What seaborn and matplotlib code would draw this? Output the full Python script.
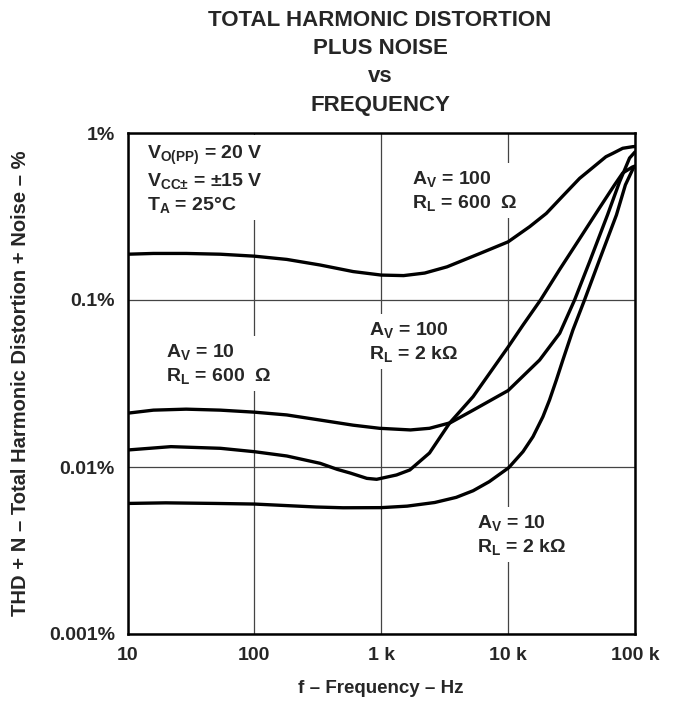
import numpy as np
import pandas as pd
import matplotlib
matplotlib.use("Agg")
import matplotlib.pyplot as plt
import seaborn as sns

# ---------------- data ----------------
# Av = 100, RL = 600 ohm
f_a100_600 = [10, 16, 29, 54, 100, 180, 330, 600, 1000, 1500, 2200, 3300, 6000, 10000,
              14800, 20000, 27000, 36600, 44000, 59000, 67000, 80000, 96000, 100000]
v_a100_600 = [0.188, 0.190, 0.190, 0.188, 0.183, 0.175, 0.162, 0.148, 0.141, 0.140, 0.145,
              0.158, 0.190, 0.223, 0.275, 0.330, 0.420, 0.535, 0.600, 0.721, 0.756, 0.810,
              0.828, 0.830]

# Av = 10, RL = 600 ohm
f_a10_600 = [10, 16, 29, 54, 100, 180, 330, 600, 970, 1700, 2400, 3500, 5300, 10000,
             17700, 25500, 33400, 43800, 60700, 75500, 90600, 100000]
v_a10_600 = [0.0210, 0.0219, 0.0222, 0.0219, 0.0213, 0.0205, 0.0191, 0.0178, 0.01705,
             0.01667, 0.01705, 0.0184, 0.0219, 0.0287, 0.0437, 0.0632, 0.100, 0.169,
             0.323, 0.509, 0.708, 0.770]

# Av = 100, RL = 2 kohm
f_a100_2k = [10, 22, 54, 100, 180, 330, 450, 570, 770, 920, 1320, 1680, 2400, 3460,
             5300, 10000, 13100, 18000, 25500, 36500, 52500, 69000, 80000, 95500,
             100000]
v_a100_2k = [0.01264, 0.01324, 0.01294, 0.01235, 0.01164, 0.01052, 0.00968, 0.00920,
             0.00855, 0.00844, 0.00896, 0.00960, 0.01213, 0.01834, 0.0264, 0.0523,
             0.0708, 0.100, 0.1525, 0.232, 0.356, 0.489, 0.576, 0.626, 0.634]

# Av = 10, RL = 2 kohm
f_a10_2k = [10, 20, 50, 100, 307, 500, 1000, 1600, 2640, 3900, 5300, 7100, 10100, 13100,
            15700, 18800, 21200, 24000, 27000, 32400, 40000, 52500, 71400, 84000, 97000,
            100000]
v_a10_2k = [0.00605, 0.0061, 0.00605, 0.0060, 0.00576, 0.0057, 0.00571, 0.00583, 0.00613,
            0.00658, 0.00721, 0.00817, 0.0099, 0.01236, 0.01519, 0.0200, 0.0252, 0.0332,
            0.0437, 0.0661, 0.100, 0.174, 0.323, 0.489, 0.617, 0.626]

x_ticks = [10, 100, 1000, 10000, 100000]
x_ticklabels = ["10", "100", "1 k", "10 k", "100 k"]
y_ticks = [0.001, 0.01, 0.1, 1]
y_ticklabels = ["0.001%", "0.01%", "0.1%", "1%"]

title = "TOTAL HARMONIC DISTORTION\nPLUS NOISE\nvs\nFREQUENCY"
xlabel = "f – Frequency – Hz"
ylabel = "THD + N – Total Harmonic Distortion + Noise – %"

# ---------------- build table ----------------
frames = []
for name, f, v in [("a100_600", f_a100_600, v_a100_600),
                   ("a10_600", f_a10_600, v_a10_600),
                   ("a100_2k", f_a100_2k, v_a100_2k),
                   ("a10_2k", f_a10_2k, v_a10_2k)]:
    frames.append(pd.DataFrame({"f": f, "thd": v, "curve": name}))
df = pd.concat(frames, ignore_index=True)

# ---------------- style ----------------
sns.set_theme(style="white")
plt.rcParams["font.family"] = ["Liberation Sans", "DejaVu Sans"]
plt.rcParams["font.weight"] = "bold"
plt.rcParams["mathtext.default"] = "regular"

fig = plt.figure(figsize=(6.76, 7.07), dpi=100)
ax = fig.add_axes([127.5 / 676, 1 - 634 / 707, (635 - 127.5) / 676, (634 - 133) / 707])

sns.lineplot(data=df, x="f", y="thd", hue="curve", units="curve", estimator=None,
             sort=False, palette=["black"] * 4, linewidth=2.4, legend=False, ax=ax,
             zorder=4)
for ln in ax.get_lines():
    ln.set_solid_joinstyle("round")
    ln.set_solid_capstyle("round")

ax.set_xscale("log")
ax.set_yscale("log")
ax.set_xlim(10, 100000)
ax.set_ylim(0.001, 1)
ax.set_xticks(x_ticks)
ax.set_xticklabels(x_ticklabels)
ax.set_yticks(y_ticks)
ax.set_yticklabels(y_ticklabels)
ax.minorticks_off()
ax.tick_params(axis="both", length=0, labelsize=14, pad=9)
for lab in ax.get_xticklabels() + ax.get_yticklabels():
    lab.set_fontweight("bold")

ax.grid(True, which="major", color="#444444", linewidth=0.9, zorder=1)
ax.set_axisbelow(True)
for s in ax.spines.values():
    s.set_color("black")
    s.set_linewidth(1.8)

ax.set_xlabel(xlabel, fontsize=13.5, fontweight="bold", labelpad=12)
ax.set_ylabel(ylabel, fontsize=14.5, fontweight="bold", labelpad=14)

fig.text(380 / 676, 1 - 10 / 707, title, ha="center", va="top", fontsize=16,
         fontweight="bold", linespacing=1.45)

bb = dict(facecolor="white", edgecolor="none", pad=4)
ann = [
    (147, 144, "V$_{O(PP)}$ = 20 V\nV$_{CC±}$ = ±15 V\nT$_A$ = 25°C"),
    (412, 169, "A$_V$ = 100\nR$_L$ = 600  Ω"),
    (166, 342, "A$_V$ = 10\nR$_L$ = 600  Ω"),
    (369, 320, "A$_V$ = 100\nR$_L$ = 2 kΩ"),
    (477, 513, "A$_V$ = 10\nR$_L$ = 2 kΩ"),
]
for px, py, t in ann:
    fig.text(px / 676, 1 - py / 707, t, ha="left", va="top", fontsize=14,
             fontweight="bold", linespacing=1.25, bbox=bb, zorder=3)

fig.savefig("out.png", dpi=100)
